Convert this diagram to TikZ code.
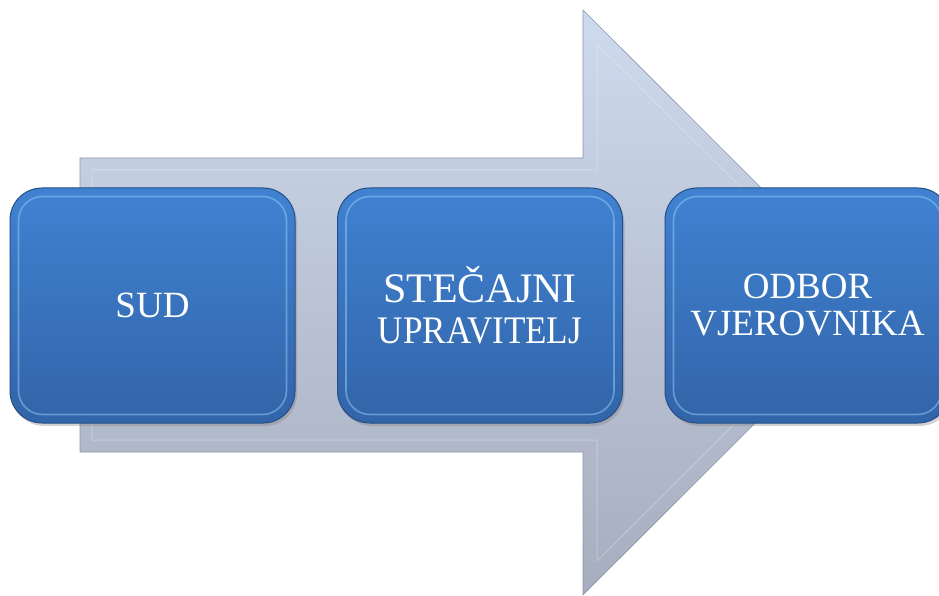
\documentclass[tikz,border=0pt]{standalone}
\usepackage{fontspec}
\setmainfont{Liberation Serif}
\usetikzlibrary{shadows}
\definecolor{boxtop}{RGB}{64,130,210}
\definecolor{boxbot}{RGB}{50,100,168}
\definecolor{boxedge}{RGB}{38,78,132}
\definecolor{hilite}{RGB}{140,200,245}
\definecolor{arrtop}{RGB}{206,218,237}
\definecolor{arrbot}{RGB}{166,173,190}
\definecolor{arredge}{RGB}{140,150,170}
\begin{document}
\begin{tikzpicture}[x=1pt,y=-1pt,
  stagebox/.style={rounded corners=32pt, minimum width=285pt, minimum height=235pt,
    top color=boxtop, bottom color=boxbot, draw=boxedge, line width=1pt,
    text=white, font=\fontsize{37}{39}\selectfont, align=center, inner sep=0pt,
    drop shadow={shadow xshift=2pt, shadow yshift=-3pt, opacity=0.35}},
  bevel/.style={draw=hilite, line width=1.6pt, opacity=0.55, rounded corners=24pt},
  arrowbody/.style={top color=arrtop, bottom color=arrbot, draw=arredge, line width=0.6pt},
  arrowbevel/.style={draw=white, line width=1pt, opacity=0.25}
]
\useasboundingbox (0,0) rectangle (939,596);
\clip (0,0) rectangle (939,596);
% background arrow
\path[arrowbody] (80,158) -- (583,158) -- (583,10) -- (876,302.5) -- (583,595) -- (583,452) -- (80,452) -- cycle;
\path[arrowbevel] (92,170) -- (597,170) -- (597,44) -- (856,302.5) -- (597,561) -- (597,440) -- (92,440) -- cycle;
% stage boxes
\node[stagebox] (sud) at (152.5,305.5) {SUD};
\node[stagebox] (upr) at (480,305.5) {{\fontsize{42}{39}\selectfont STEČAJNI}\\[2pt]\scalebox{0.9}[1]{\fontsize{39}{39}\selectfont UPRAVITELJ}};
\node[stagebox] (odb) at (807.5,305.5) {ODBOR\\[-2pt]VJEROVNIKA};
\foreach \b in {sud,upr,odb}{
  \draw[bevel] ([xshift=9pt,yshift=-9pt]\b.north west) rectangle ([xshift=-9pt,yshift=9pt]\b.south east);
}
\end{tikzpicture}
\end{document}
